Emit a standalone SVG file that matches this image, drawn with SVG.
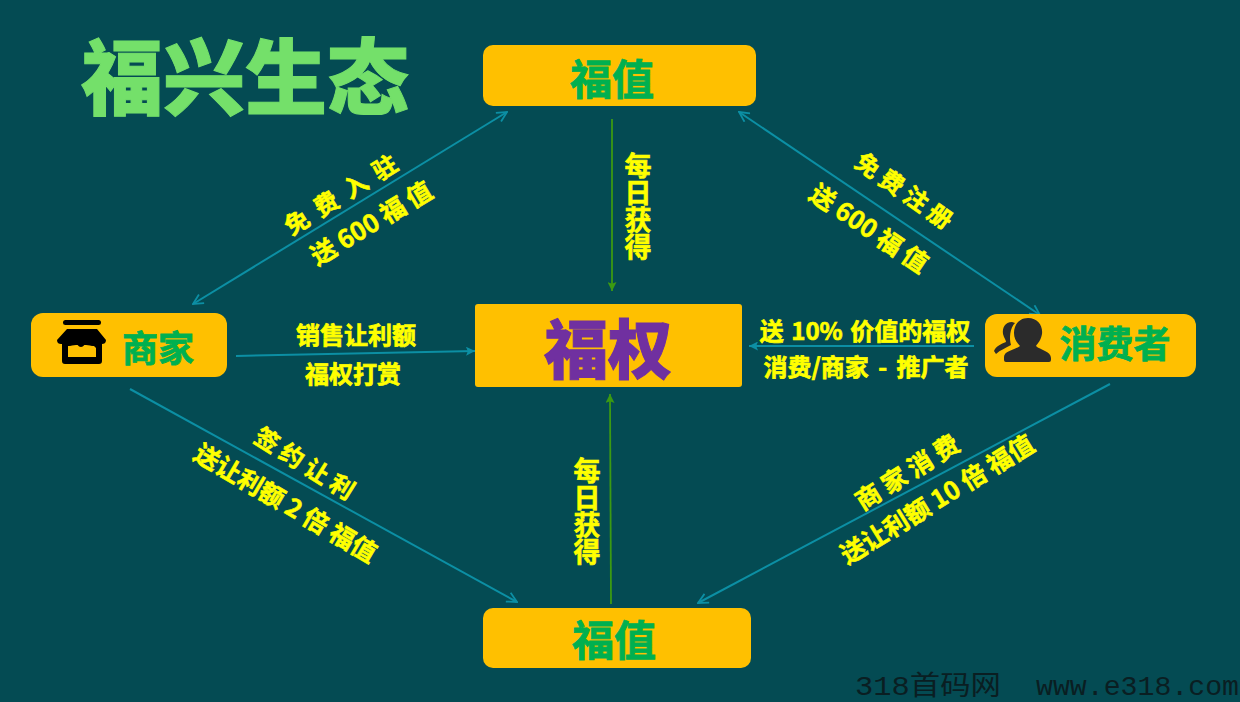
<svg xmlns="http://www.w3.org/2000/svg" width="1240" height="702" viewBox="0 0 1240 702">
<style>
text{font-family:"Noto Sans CJK SC","Liberation Sans",sans-serif;font-weight:700;text-anchor:middle}
.box{fill:#FFC000}
.g{fill:#00B050;stroke:#00B050;stroke-width:.8px;font-size:42px}
.y{fill:#FFFF00;font-size:24px;stroke:#FFFF00;stroke-width:.7px}
.s{fill:#FFFF00;font-size:24px;stroke:#FFFF00;stroke-width:.6px}
.v{fill:#FFFF00;font-size:27px;stroke:#FFFF00;stroke-width:.6px;writing-mode:vertical-rl}
.c{stroke:#0C8FA4;stroke-width:2;fill:none}
.t{stroke:#3C9A12;stroke-width:1.8;fill:none}
.wm{fill:#0a1e22;font-family:"Liberation Mono","Noto Sans CJK SC",monospace;font-weight:400;text-anchor:start}
</style>
<defs>
<marker id="a" viewBox="0 0 12 12" refX="11" refY="6" markerWidth="12" markerHeight="12" markerUnits="userSpaceOnUse" orient="auto-start-reverse"><path d="M1 1L11 6L1 11" fill="none" stroke="#0C8FA4" stroke-width="1.8"/></marker>
<marker id="f" viewBox="0 0 10 10" refX="10" refY="5" markerWidth="9" markerHeight="9" markerUnits="userSpaceOnUse" orient="auto"><path d="M0 0L10 5L0 10L2 5Z" fill="#0C8FA4"/></marker>
<marker id="n" viewBox="0 0 10 10" refX="10" refY="5" markerWidth="9" markerHeight="9" markerUnits="userSpaceOnUse" orient="auto"><path d="M0 0L10 5L0 10L2 5Z" fill="#3C9A12"/></marker>
</defs>
<rect width="1240" height="702" fill="#044B53"/>
<g id="connectors">
<path class="c" d="M193 304L507 112" marker-start="url(#a)" marker-end="url(#a)"/>
<path class="c" d="M739 112L1040 315" marker-start="url(#a)" marker-end="url(#a)"/>
<path class="c" d="M130 389L517 602" marker-end="url(#a)"/>
<path class="c" d="M1110 384L698 603" marker-end="url(#a)"/>
<path class="c" d="M236 356L475 351" marker-end="url(#f)"/>
<path class="c" d="M974 346L749 346" marker-end="url(#f)"/>
<path class="t" d="M612 119L612 291" marker-end="url(#n)"/>
<path class="t" d="M611 604L610 394" marker-end="url(#n)"/>
</g>
<g id="title"><text x="245" y="108" font-size="82" fill="#74E06A" stroke="#74E06A" stroke-width="1" style="font-weight:900">福兴生态</text></g>
<g id="node-fuzhi-top"><rect class="box" x="483" y="45" width="273" height="61" rx="10"/><text class="g" x="612" y="95">福值</text></g>
<g id="node-fuquan"><rect class="box" x="475" y="304" width="267" height="83" rx="3"/><text x="608" y="373" font-size="64" fill="#7030A0" stroke="#7030A0" stroke-width="1" style="font-weight:900">福权</text></g>
<g id="node-fuzhi-bottom"><rect class="box" x="483" y="608" width="268" height="60" rx="10"/><text class="g" x="614" y="656">福值</text></g>
<g id="node-merchant"><rect class="box" x="31" y="313" width="196" height="64" rx="12"/>
<rect x="63" y="320" width="38" height="5" rx="2.5" fill="#000"/>
<path d="M67 329H97L106 340C106 343 104 344 102 344C99 344 97 346 94 346C91 346 89 344 86 344C84 344 84 347 81 347C78 347 78 344 76 344C73 344 71 346 68 346C65 346 65 344 61 344C59 344 57 343 57 340Z" fill="#000"/>
<path fill-rule="evenodd" d="M62 344H102V361a3 3 0 0 1-3 3H65a3 3 0 0 1-3-3ZM68 348V357H96V348L94 346L86 345L76 345L68 346Z" fill="#000"/>
<text class="g" x="158" y="362" style="font-size:36px">商家</text></g>
<g id="node-consumer"><rect class="box" x="985" y="314" width="211" height="63" rx="12"/>
<path d="M1028 318C1038 318 1043 326 1042 334C1041 340 1038 343 1036 346C1040 350 1051 351 1051 358V360a2 2 0 0 1-2 2H1006a2 2 0 0 1-2-2V357C1004 351 1015 350 1020 346C1017 343 1014 339 1014 333C1014 325 1019 318 1028 318Z" fill="#2b2b2b"/>
<path d="M1012 322C1005 322 1002 328 1003 334C1004 338 1006 340 1006 342C1001 344 996 346 994 351L996 354C1000 350 1006 348 1011 345C1009 338 1010 328 1015 323Z" fill="#2b2b2b"/>
<text class="g" x="1115" y="358" style="font-size:37px">消费者</text></g>
<g id="labels">
<text class="y" x="356" y="344">销售让利额</text>
<text class="y" x="353" y="383">福权打赏</text>
<text class="y" x="865" y="340" style="word-spacing:2px">送 10% 价值的福权</text>
<text class="y" x="866" y="376" style="word-spacing:4px">消费/商家 - 推广者</text>
<text class="s" transform="translate(346 202) rotate(-32)" style="letter-spacing:1px;word-spacing:3px">免 费 入 驻</text>
<text class="s" transform="translate(376 231) rotate(-31)" style="font-size:25px">送 600 福 值</text>
<text class="s" transform="translate(899 198) rotate(35)">免 费 注 册</text>
<text class="s" transform="translate(864 236) rotate(34)" style="font-size:25px">送 600 福 值</text>
<text class="s" transform="translate(300 471) rotate(32)">签 约 让 利</text>
<text class="s" transform="translate(281 511) rotate(30.5)" style="font-size:25px">送让利额 2 倍 福值</text>
<text class="s" transform="translate(912 480) rotate(-32)" style="font-size:25px">商 家 消 费</text>
<text class="s" transform="translate(942 507) rotate(-31.5)" style="font-size:25px">送让利额 10 倍 福值</text>
<text class="v" x="638" y="206">每日获得</text>
<text class="v" x="587" y="511">每日获得</text>
</g>
<g id="watermark"><text class="wm" x="855" y="695" font-size="27" textLength="146" lengthAdjust="spacingAndGlyphs">318首码网</text><text class="wm" x="1036" y="695" font-size="27" textLength="203" lengthAdjust="spacingAndGlyphs">www.e318.com</text></g>
</svg>
